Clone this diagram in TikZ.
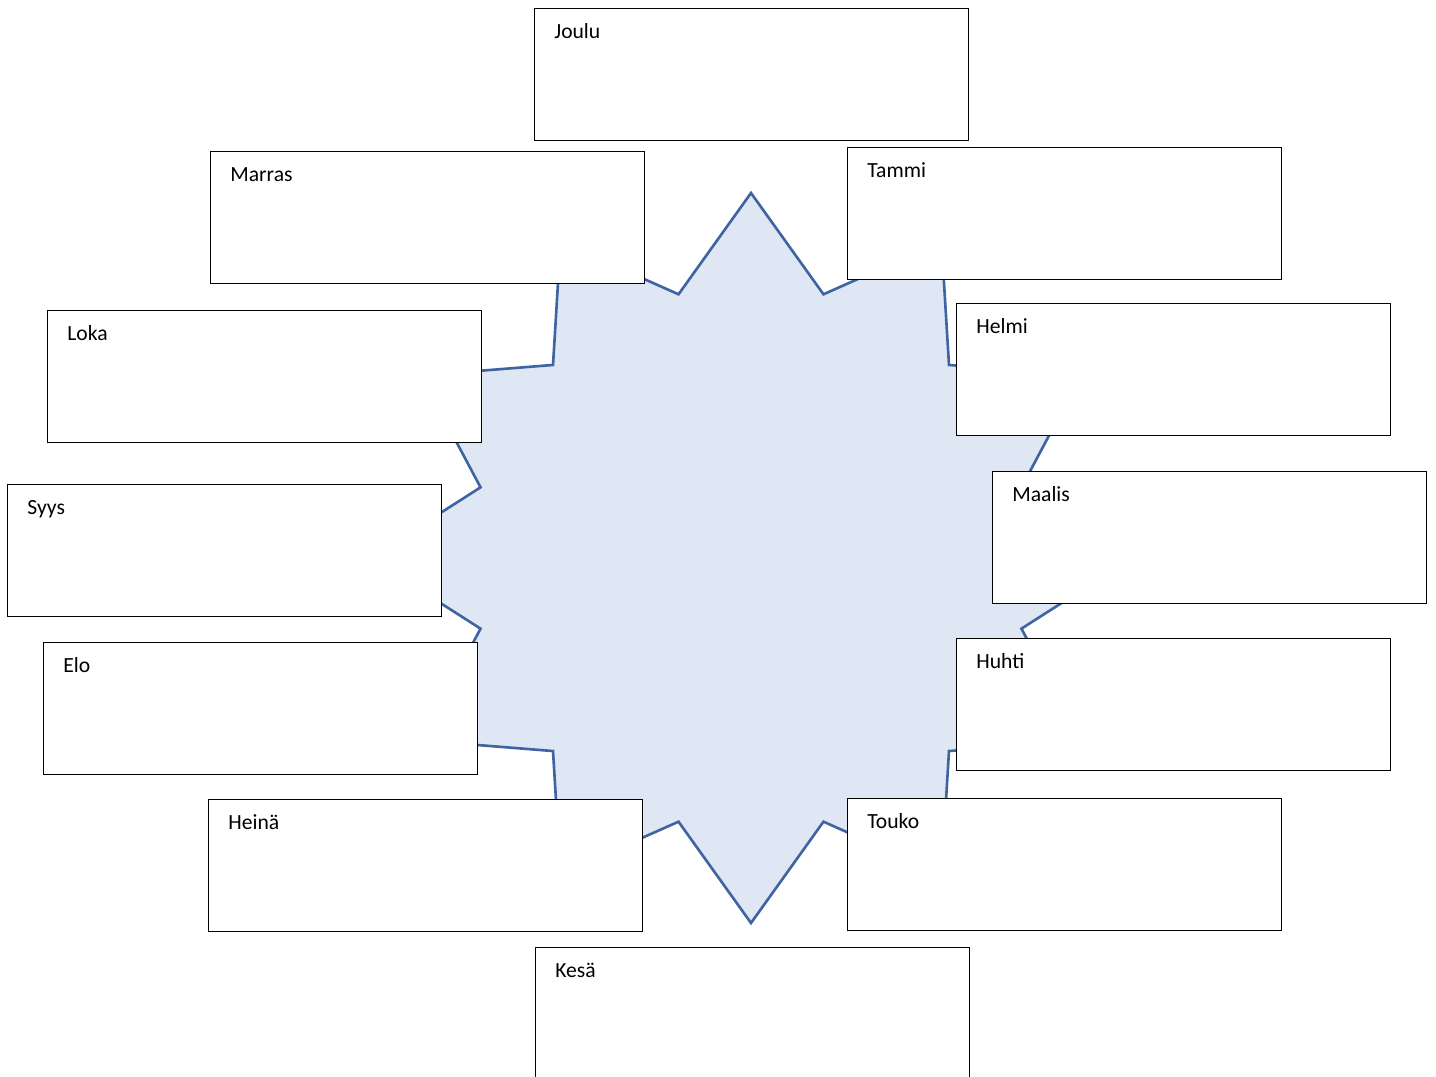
\documentclass[tikz,border=0pt]{standalone}
\usepackage{fontspec}
\setmainfont{Carlito}
\usepackage{tikz}
\usetikzlibrary{calc,positioning}
\definecolor{SealFill}{RGB}{223,231,244}
\definecolor{SealLine}{RGB}{62,101,162}

\begin{document}
\begin{tikzpicture}[x=0.02cm,y=-0.02cm,
  monthbox/.style={draw=black,line width=0.7pt,fill=white,inner sep=0pt,minimum width=8.68cm,minimum height=2.64cm,anchor=north west},
  monthname/.style={font=\fontsize{12.3}{14}\selectfont,anchor=base west,inner sep=0pt}]
  \useasboundingbox (0,0) rectangle (1436,1077);
  \clip (0,0) rectangle (1436,1077);
  % twelve-point seal in the middle
  \draw[SealLine,fill=SealFill,line width=1.5pt,line join=miter,shift={(751,558)}]
    (0:381 and 365) \foreach \a in {0,30,...,330} {-- (\a+15:280 and 273) -- (\a+30:381 and 365)} -- cycle;
  \foreach \x/\y/\id/\title in {
    534/8/joulu/{Joulu},
    847/147/tammi/{Tammi},
    956/303/helmi/{Helmi},
    992/471/maalis/{Maalis},
    956/638/huhti/{Huhti},
    847/798/touko/{Touko},
    535/947/kesa/{Kesä},
    208/799/heina/{Heinä},
    43/642/elo/{Elo},
    7/484/syys/{Syys},
    47/310/loka/{Loka},
    210/151/marras/{Marras}
  } {
    \node[monthbox] (\id) at (\x,\y) {};
    \node[monthname] (\id-name) at ($(\id.north west)+(20,30.5)$) {\title};
  }
\end{tikzpicture}
\end{document}
